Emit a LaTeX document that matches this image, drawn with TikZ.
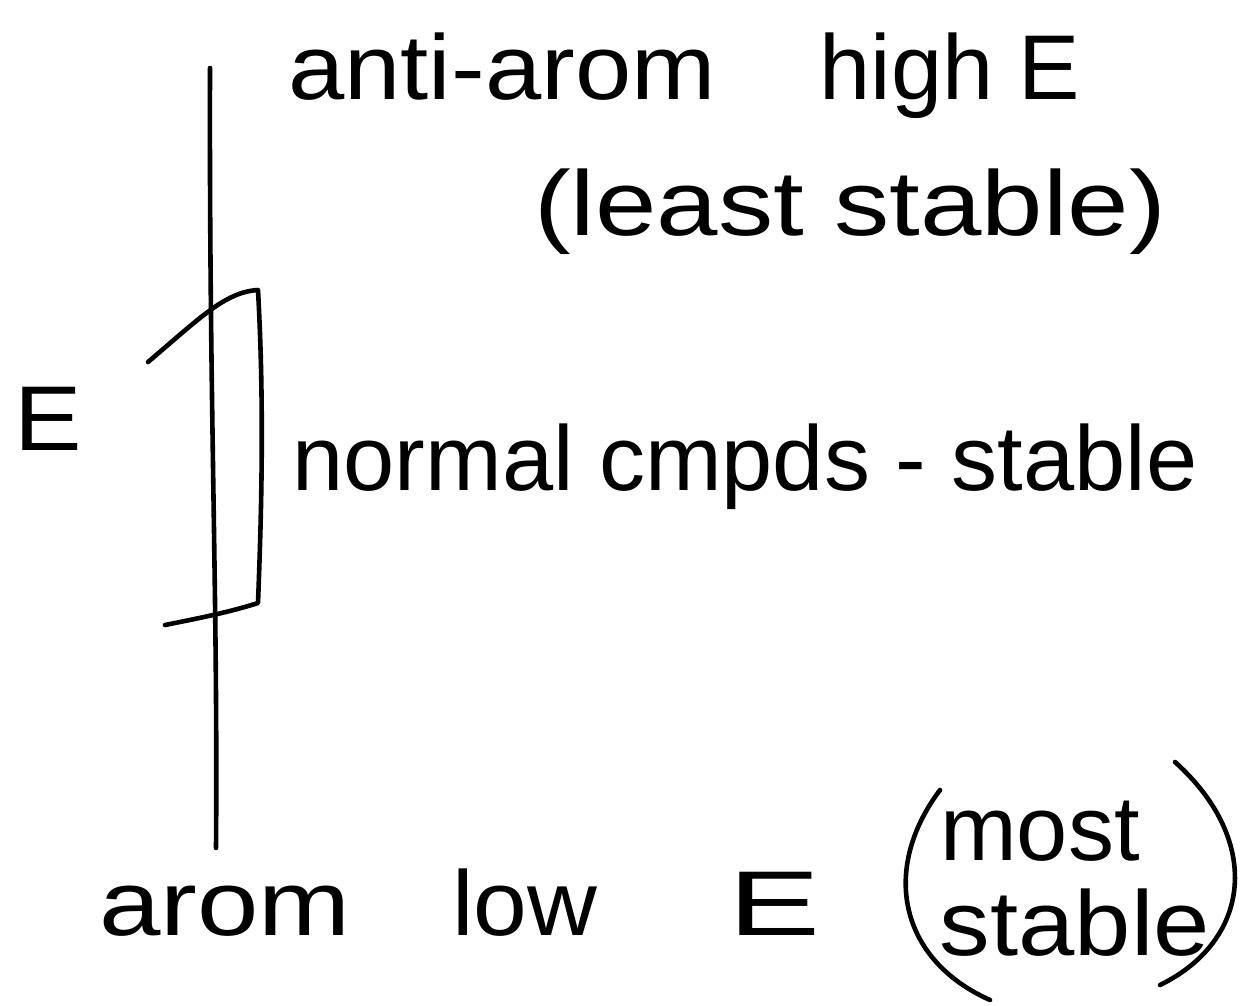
\documentclass[tikz,border=0pt]{standalone}
\usepackage{fontspec}
\setmainfont{Liberation Sans}
\begin{document}
\begin{tikzpicture}[x=0.5pt,y=-0.5pt,
  ink/.style={line width=2.3pt, line cap=round, line join=round},
  hand/.style={font=\fontsize{46}{52}\selectfont, inner sep=0pt, anchor=base}]
\useasboundingbox[fill=white] (0,0) rectangle (1248,1006);
% axis
\coordinate (axtop) at (210,68);
\coordinate (axbot) at (216,848);
\draw[ink] (axtop) .. controls (209,400) and (218,600) .. (axbot);
% bracket
\coordinate (bA) at (148,362);
\coordinate (bB) at (258,290);
\coordinate (bC) at (258,603);
\coordinate (bD) at (165,625);
\draw[ink] (bA) .. controls (200,318) and (225,292) .. (bB)
  .. controls (264,400) and (262,500) .. (bC)
  .. controls (230,612) and (200,618) .. (bD);
% texts
\node[hand, xscale=1.1] (E) at (48,450) {E};
\node[hand, xscale=1.1] (anti) at (502,100) {anti-arom};
\node[hand] (high) at (950,100) {high E};
\node[hand, xscale=1.2] (least) at (850,235) {(least stable)};
\node[hand] (normal) at (745,490) {normal cmpds - stable};
\node[hand, xscale=1.2] (arom) at (225,935) {arom};
\node[hand, xscale=1.05] (low) at (525,935) {low};
\node[hand, xscale=1.5] (lowE) at (775,935) {E};
\node[hand] (most) at (1040,860) {most};
\node[hand, xscale=1.1] (stable) at (1075,955) {stable};
% big parentheses
\coordinate (lp1) at (940,790);
\coordinate (lp2) at (990,1000);
\coordinate (rp1) at (1175,762);
\coordinate (rp2) at (1160,985);
\draw[ink] (lp1) .. controls (880,870) and (900,960) .. (lp2);
\draw[ink] (rp1) .. controls (1262,840) and (1252,940) .. (rp2);
\end{tikzpicture}
\end{document}
